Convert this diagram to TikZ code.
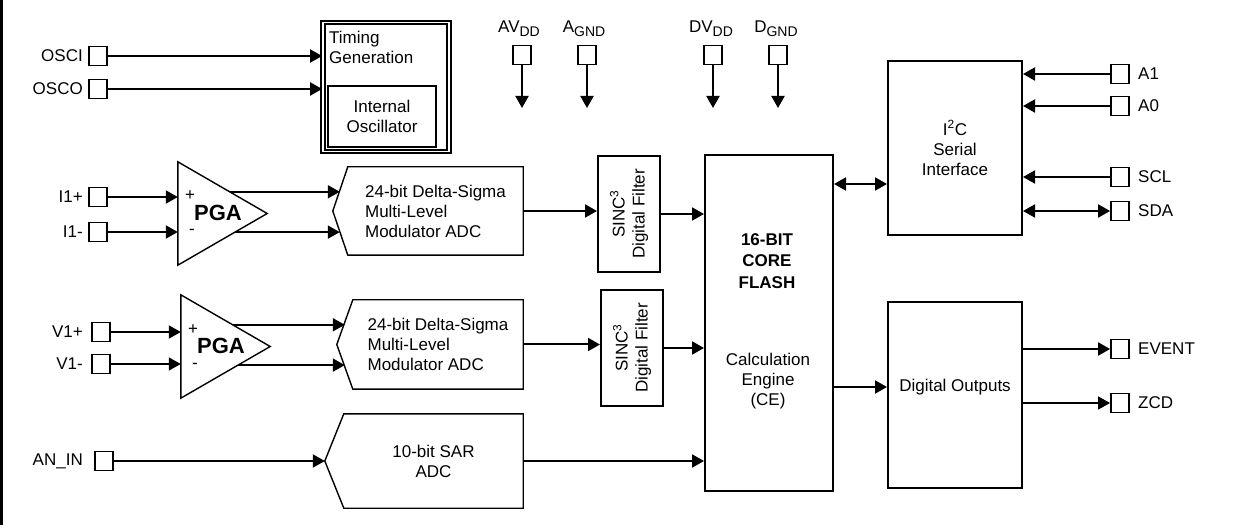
\documentclass[tikz,border=0pt]{standalone}
\usepackage{fontspec}
\setmainfont{Liberation Sans}
\usetikzlibrary{arrows.meta,calc}

\newcommand\pinsub[1]{\raisebox{-4bp}{\fontsize{14bp}{14bp}\selectfont #1}}

\tikzset{
  padbox/.style={draw, line width=1.8bp, minimum width=18bp, minimum height=19bp, inner sep=0pt},
  block/.style={draw, line width=2bp, inner sep=0pt, align=center},
  blank/.style={inner sep=0pt, align=center},
  lbl/.style={inner sep=0pt},
  wire/.style={line width=2bp, -{Triangle[length=12bp,width=13bp]}},
  buswire/.style={line width=2bp, {Triangle[length=12bp,width=13bp]}-{Triangle[length=12bp,width=13bp]}},
  thinline/.style={line width=1.4bp, line join=miter},
}

\begin{document}
\begin{tikzpicture}[x=1bp, y=-1bp]
   \fontsize{17bp}{20bp}\selectfont
   \useasboundingbox (0,0) rectangle (1245,525);
   \draw[line width=3bp] (1.5,0) -- (1.5,525);

   % clock inputs and timing
   \node[padbox] (osci) at (98,56) {};
   \node[padbox] (osco) at (98,89) {};
   \node[lbl, anchor=east] (osci lbl) at (83,56) {OSCI};
   \node[lbl, anchor=east] (osco lbl) at (83,89) {OSCO};
   \node[block, double, double distance=1.8bp, line width=1.7bp, minimum width=126bp, minimum height=129bp] (timing) at (386,87) {};
   \node[blank, anchor=north west, align=left] (timing lbl) at (329,31) {Timing\\Generation};
   \node[block, minimum width=108bp, minimum height=61bp] (osc) at (382,116.5) {Internal\\Oscillator};

   \draw[wire] (osci.east) -- (osci.east -| timing.west);
   \draw[wire] (osco.east) -- (osco.east -| timing.west);

   % supply pins
   \node[padbox] (avdd) at (522,55) {};
   \node[padbox] (agnd) at (587,55) {};
   \node[padbox] (dvdd) at (713,55) {};
   \node[padbox] (dgnd) at (778,55) {};
   \node (avdd lbl) at (519,29) {AV\pinsub{DD}};
   \node (agnd lbl) at (584,29) {A\pinsub{GND}};
   \node (dvdd lbl) at (711,29) {DV\pinsub{DD}};
   \node (dgnd lbl) at (776,29) {D\pinsub{GND}};
   \coordinate (avdd end) at (522,108);
   \coordinate (agnd end) at (587,108);
   \coordinate (dvdd end) at (713,108);
   \coordinate (dgnd end) at (778,108);

   \draw[wire] (avdd.south) -- (avdd end);
   \draw[wire] (agnd.south) -- (agnd end);
   \draw[wire] (dvdd.south) -- (dvdd end);
   \draw[wire] (dgnd.south) -- (dgnd end);

   % current channel
   \node[padbox] (i1p) at (98,197) {};
   \node[padbox] (i1n) at (98,232) {};
   \node[lbl, anchor=east] (i1p lbl) at (83,197) {I1+};
   \node[lbl, anchor=east] (i1n lbl) at (83,232) {I1-};
   \node[blank, minimum width=89bp, minimum height=103bp] (pga1) at (222.5,213.5) {};
   \draw[thinline] (pga1.north west) -- (pga1.east) -- (pga1.south west) -- cycle;
   \node[font=\bfseries\fontsize{22bp}{24bp}\selectfont] (pga1 lbl) at (218,213) {PGA};
   \node (pga1 plus) at (190,196) {+};
   \node (pga1 minus) at (192,232) {-};
   \coordinate (pga1 o1) at ($(pga1.north west)!0.58!(pga1.east)$);
   \coordinate (pga1 o2) at ($(pga1.south west)!0.64!(pga1.east)$);
   \node[blank, align=left, minimum width=175bp, minimum height=88bp] (adc1) at (435.5,211) {24-bit Delta-Sigma\\Multi-Level\\Modulator ADC};
   \draw[thinline] (adc1.north west) -- (adc1.north east) -- (adc1.south east) -- (adc1.south west) -- ([xshift=-15bp]adc1.west) -- cycle;
   \coordinate (adc1 in) at ([xshift=-8bp]adc1.west);
   \node[block, minimum width=62bp, minimum height=116bp] (sinc1) at (629,214) {};
   \node[blank, rotate=90] (sinc1 lbl) at (sinc1) {SINC\textsuperscript{3}\\Digital Filter};

   \draw[wire] (i1p.east) -- (i1p.east -| pga1.west);
   \draw[wire] (i1n.east) -- (i1n.east -| pga1.west);
   \draw[wire] (pga1 o1) -- (pga1 o1 -| adc1 in);
   \draw[wire] (pga1 o2) -- (pga1 o2 -| adc1 in);
   \draw[wire] (adc1.east) -- (adc1.east -| sinc1.west);

   % voltage channel
   \node[padbox] (v1p) at (101,332) {};
   \node[padbox] (v1n) at (101,364) {};
   \node[lbl, anchor=east] (v1p lbl) at (83,332) {V1+};
   \node[lbl, anchor=east] (v1n lbl) at (83,364) {V1-};
   \node[blank, minimum width=89bp, minimum height=103bp] (pga2) at (225.5,346.5) {};
   \draw[thinline] (pga2.north west) -- (pga2.east) -- (pga2.south west) -- cycle;
   \node[font=\bfseries\fontsize{22bp}{24bp}\selectfont] (pga2 lbl) at (221,346) {PGA};
   \node (pga2 plus) at (193,330) {+};
   \node (pga2 minus) at (195,366) {-};
   \coordinate (pga2 o1) at ($(pga2.north west)!0.58!(pga2.east)$);
   \coordinate (pga2 o2) at ($(pga2.south west)!0.64!(pga2.east)$);
   \node[blank, align=left, minimum width=170bp, minimum height=89bp] (adc2) at (438,344.5) {24-bit Delta-Sigma\\Multi-Level\\Modulator ADC};
   \draw[thinline] (adc2.north west) -- (adc2.north east) -- (adc2.south east) -- (adc2.south west) -- ([xshift=-16bp]adc2.west) -- cycle;
   \coordinate (adc2 in) at ([xshift=-8bp]adc2.west);
   \node[block, minimum width=62bp, minimum height=116bp] (sinc2) at (632,348) {};
   \node[blank, rotate=90] (sinc2 lbl) at (sinc2) {SINC\textsuperscript{3}\\Digital Filter};

   \draw[wire] (v1p.east) -- (v1p.east -| pga2.west);
   \draw[wire, line width=1.2bp] (v1n.east) -- (v1n.east -| pga2.west);
   \draw[wire] (pga2 o1) -- (pga2 o1 -| adc2 in);
   \draw[wire] (pga2 o2) -- (pga2 o2 -| adc2 in);
   \draw[wire] (adc2.east) -- (adc2.east -| sinc2.west);

   % aux input
   \node[padbox] (anin) at (104,461) {};
   \node[lbl, anchor=east] (anin lbl) at (83,461) {AN\_IN};
   \node[blank, minimum width=179bp, minimum height=94bp] (sar) at (433.5,461) {10-bit SAR\\ADC};
   \draw[thinline] (sar.north west) -- (sar.north east) -- (sar.south east) -- (sar.south west) -- ([xshift=-19bp]sar.west) -- cycle;
   \coordinate (sar in) at ([xshift=-19bp]sar.west);

   \draw[wire] (anin.east) -- (sar in);

   % core
   \node[block, minimum width=128bp, minimum height=336bp] (core) at (769,323) {};
   \node[blank, font=\bfseries\fontsize{17bp}{21.5bp}\selectfont] (core lbl) at (767,261) {16-BIT\\CORE\\FLASH};
   \node[blank] (ce lbl) at (768,381) {Calculation\\Engine\\(CE)};

   \draw[wire] (sinc1.east) -- (sinc1.east -| core.west);
   \draw[wire] (sinc2.east) -- (sinc2.east -| core.west);
   \draw[wire] (sar.east) -- (sar.east -| core.west);

   % serial interface
   \node[block, minimum width=134bp, minimum height=174bp] (i2c) at (955,148) {I\textsuperscript{2}C\\Serial\\Interface};
   \node[padbox] (a1) at (1120,74) {};
   \node[padbox] (a0) at (1120,106) {};
   \node[padbox] (scl) at (1120,177) {};
   \node[padbox] (sda) at (1120,211) {};
   \node[lbl, anchor=west] (a1 lbl) at (1138,74) {A1};
   \node[lbl, anchor=west] (a0 lbl) at (1138,106) {A0};
   \node[lbl, anchor=west] (scl lbl) at (1138,177) {SCL};
   \node[lbl, anchor=west] (sda lbl) at (1138,211) {SDA};
   \coordinate (bus) at ([yshift=-36bp]i2c.west);

   \draw[buswire] (core.east |- bus) -- (bus);
   \draw[wire] (a1.west) -- (a1.west -| i2c.east);
   \draw[wire] (a0.west) -- (a0.west -| i2c.east);
   \draw[wire] (scl.west) -- (scl.west -| i2c.east);
   \draw[buswire] (sda.west -| i2c.east) -- (sda.west);

   % outputs
   \node[block, minimum width=134bp, minimum height=186bp] (dout) at (955,395) {};
   \node[blank] (dout lbl) at (955,387) {Digital Outputs};
   \node[padbox] (event) at (1120,349) {};
   \node[padbox] (zcd) at (1120,403) {};
   \node[lbl, anchor=west] (event lbl) at (1138,349) {EVENT};
   \node[lbl, anchor=west] (zcd lbl) at (1138,403) {ZCD};

   \draw[wire] (core.east |- dout lbl) -- (dout lbl -| dout.west);
   \draw[wire] (event -| dout.east) -- (event.west);
   \draw[wire, line width=1.2bp] (zcd -| dout.east) -- (zcd.west);
\end{tikzpicture}
\end{document}
